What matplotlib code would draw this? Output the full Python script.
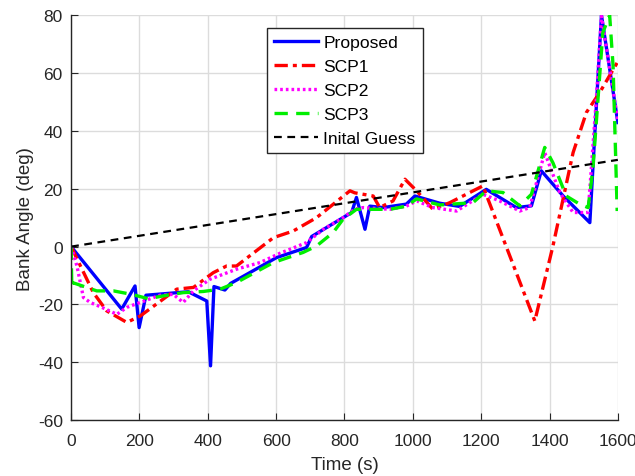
import matplotlib.pyplot as plt

plt.rcParams['font.family'] = ['Liberation Sans', 'DejaVu Sans']
plt.rcParams['axes.unicode_minus'] = False

# Proposed
t_prop = [0, 148, 187, 199, 219, 343, 397, 408, 418, 450, 467, 601, 689, 704, 821, 835,
          860, 874, 913, 981, 1006, 1079, 1137, 1215, 1303, 1347, 1376, 1440, 1518, 1552, 1600]
y_prop = [0, -21.6, -13.6, -28, -16.8, -15.6, -18.8, -41.2, -13.8, -15, -12.7, -3.8, -0.3, 3.5, 11.8, 17,
          6, 14, 13.5, 14.7, 17.5, 15, 13.9, 19.8, 13.5, 14.1, 26.2, 17.5, 8.3, 80, 42.9]

# SCP1
t_scp1 = [0, 65, 104, 163, 202, 309, 358, 416, 455, 484, 592, 650, 718, 816, 830,
          884, 903, 942, 977, 1011, 1059, 1108, 1205, 1357, 1410, 1469, 1508, 1547, 1600]
y_scp1 = [0, -15.9, -22.2, -26.2, -24, -14.7, -14.1, -9, -6.7, -6.7, 3.1, 5.4, 10, 19.3, 18.6,
          17.5, 13.5, 15.8, 23.3, 19.3, 12.9, 15.2, 21, -25.7, 0.2, 32.5, 46.4, 53.3, 64]

# SCP2
t_scp2 = [0, 17, 36, 56, 90, 134, 163, 202, 260, 299, 328, 358, 406, 484, 553, 611, 689, 738, 796, 830,
          855, 933, 981, 1011, 1059, 1128, 1205, 1254, 1313, 1342, 1386, 1430, 1469, 1513, 1537, 1552, 1600]
y_scp2 = [0, -6.7, -17.6, -19.3, -21, -23.4, -21, -19.3, -16.8, -16.5, -19.3, -15.3, -11.3, -7.8, -5.5, -2.3,
          1.4, 6, 10, 13, 13.5, 12.9, 14, 15.8, 13.5, 12.3, 18.1, 15.8, 12.3, 13.5, 32.5, 18.7, 11.8, 11.8,
          51, 79.7, 43.5]

# SCP3
t_scp3 = [0, 2, 6, 75, 124, 177, 226, 280, 328, 387, 436, 484, 592, 679, 718, 767, 796, 835,
          933, 981, 1011, 1079, 1176, 1215, 1264, 1313, 1347, 1386, 1410, 1449, 1488, 1513,
          1527, 1556, 1576, 1586, 1598]
y_scp3 = [0, -14, -12.5, -15.3, -15.3, -16.5, -18, -16.8, -15.9, -15.5, -14.7, -12.4, -5.5, -2, 0.2, 4.9,
          9.5, 12.9, 12.9, 14, 16.5, 14.4, 15.2, 19.3, 18.7, 14.1, 18.1, 34.3, 29, 17.5, 14.7, 13.5,
          26.8, 74, 80, 62.5, 12.3]

# Initial guess
t_init = [0, 1600]
y_init = [0, 30]

dark = '#262626'

fig = plt.figure(figsize=(6.35, 4.77), dpi=100)
ax = fig.add_axes([0.112, 0.117, 0.861, 0.849])

ax.plot(t_prop, y_prop, color='#0000ff', lw=2.4, ls='-', label='Proposed')
ax.plot(t_scp1, y_scp1, color='#ff0000', lw=2.4, ls=(0, (4, 1.5, 1.2, 1.5)), label='SCP1')
ax.plot(t_scp2, y_scp2, color='#ff00ff', lw=2.4, ls=(0, (0.8, 0.9)), label='SCP2')
ax.plot(t_scp3, y_scp3, color='#00ee00', lw=2.4, ls=(0, (4, 2.5)), label='SCP3')
ax.plot(t_init, y_init, color='black', lw=1.6, ls=(0, (3.5, 2.5)), label='Inital Guess')

ax.set_xlim(0, 1600)
ax.set_ylim(-60, 80)
ax.set_xticks(range(0, 1601, 200))
ax.set_yticks(range(-60, 81, 20))
ax.grid(True, color='#dcdcdc', lw=1.0)
ax.set_axisbelow(True)
ax.spines['top'].set_visible(False)
ax.spines['right'].set_visible(False)
for s in ('left', 'bottom'):
    ax.spines[s].set_linewidth(1.0)
    ax.spines[s].set_color(dark)
ax.tick_params(direction='in', length=5, labelsize=12.5, colors=dark)
ax.tick_params(axis='x', pad=9)
ax.tick_params(axis='y', pad=6)
ax.set_xlabel('Time (s)', fontsize=13.5, labelpad=6, color=dark)
ax.set_ylabel('Bank Angle (deg)', fontsize=13.5, labelpad=3, color=dark)

leg = ax.legend(loc='upper left', bbox_to_anchor=(0.359, 0.968), fontsize=12.6,
                frameon=True, fancybox=False, edgecolor=dark, framealpha=1,
                handlelength=2.5, handletextpad=0.3, borderpad=0.4, labelspacing=0.5,
                borderaxespad=0)
leg.get_frame().set_linewidth(1.0)

fig.savefig('out.png', dpi=100)
